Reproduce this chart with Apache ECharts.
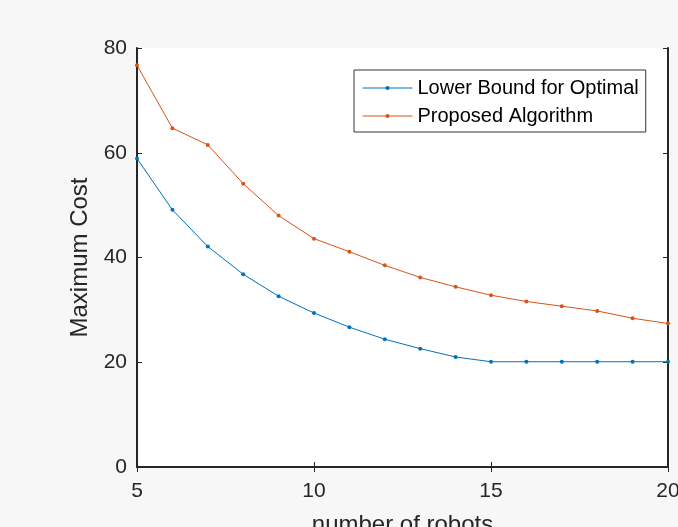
<!DOCTYPE html>
<html>
<head>
<meta charset="utf-8">
<script src="https://cdn.jsdelivr.net/npm/echarts@6/dist/echarts.min.js"></script>
<style>
html,body{margin:0;padding:0;background:#f7f7f7;}
#c{width:678px;height:527px;}
</style>
</head>
<body>
<div id="c"></div>
<script>
var robots = [5,6,7,8,9,10,11,12,13,14,15,16,17,18,19,20];
var lowerBound = [58.9,49.1,42.1,36.8,32.6,29.4,26.7,24.4,22.6,21.0,20.1,20.1,20.1,20.1,20.1,20.1];
var proposed = [76.7,64.7,61.5,54.1,48.0,43.6,41.1,38.5,36.2,34.4,32.8,31.6,30.7,29.8,28.4,27.4];
var seriesNames = ['Lower Bound for Optimal','Proposed Algorithm'];
var colors = ['#0072BD','#D95319'];

function pairs(ys){ return robots.map(function(x,i){ return [x, ys[i]]; }); }

var axisCol = '#262626';
var font = 'Liberation Sans, Arial, sans-serif';
var chart = echarts.init(document.getElementById('c'));
chart.setOption({
  backgroundColor: '#f7f7f7',
  animation: false,
  grid: {left:137, right:10, top:48, bottom:60, show:true, backgroundColor:'#ffffff', borderWidth:0, containLabel:false, outerBoundsMode:'none'},
  legend: {
    left: 354, top: 70,
    orient: 'vertical',
    backgroundColor: '#ffffff',
    borderColor: '#333333',
    borderWidth: 1,
    borderRadius: 0,
    padding: [8, 7, 6, 8],
    itemGap: 8,
    itemWidth: 50,
    itemHeight: 5,
    lineStyle: {width: 1},
    textStyle: {fontFamily: font, fontSize: 20, color: '#000000'},
    data: seriesNames
  },
  xAxis: [{
    type:'value', min:5, max:20, interval:5,
    name:'number of robots', nameLocation:'middle', nameGap:46,
    nameTextStyle:{fontFamily:font, fontSize:24, color:axisCol},
    axisLine:{show:true, lineStyle:{color:axisCol, width:2}},
    axisTick:{show:true, inside:true, length:5, lineStyle:{color:axisCol}},
    axisLabel:{fontFamily:font, fontSize:21, color:axisCol, margin:14},
    splitLine:{show:false}
  },{
    type:'value', min:5, max:20, interval:5, position:'top',
    axisLine:{show:true, lineStyle:{color:axisCol, width:2}},
    axisTick:{show:true, inside:true, length:5, lineStyle:{color:axisCol}},
    axisLabel:{show:false}, splitLine:{show:false}
  }],
  yAxis: [{
    type:'value', min:0, max:80, interval:20,
    name:'Maximum Cost', nameLocation:'middle', nameGap:40,
    nameTextStyle:{fontFamily:font, fontSize:24, color:axisCol},
    axisLine:{show:true, lineStyle:{color:axisCol, width:2}},
    axisTick:{show:true, inside:true, length:5, lineStyle:{color:axisCol}},
    axisLabel:{fontFamily:font, fontSize:21, color:axisCol, margin:10},
    splitLine:{show:false}
  },{
    type:'value', min:0, max:80, interval:20, position:'right',
    axisLine:{show:true, lineStyle:{color:axisCol, width:2}},
    axisTick:{show:true, inside:true, length:5, lineStyle:{color:axisCol}},
    axisLabel:{show:false}, splitLine:{show:false}
  }],
  series: [{
    name: seriesNames[0], type:'line', data: pairs(lowerBound),
    symbol:'circle', symbolSize:4, showSymbol:true,
    lineStyle:{color:colors[0], width:1}, itemStyle:{color:colors[0]}
  },{
    name: seriesNames[1], type:'line', data: pairs(proposed),
    symbol:'circle', symbolSize:4, showSymbol:true,
    lineStyle:{color:colors[1], width:1}, itemStyle:{color:colors[1]}
  }]
});
</script>
</body>
</html>
